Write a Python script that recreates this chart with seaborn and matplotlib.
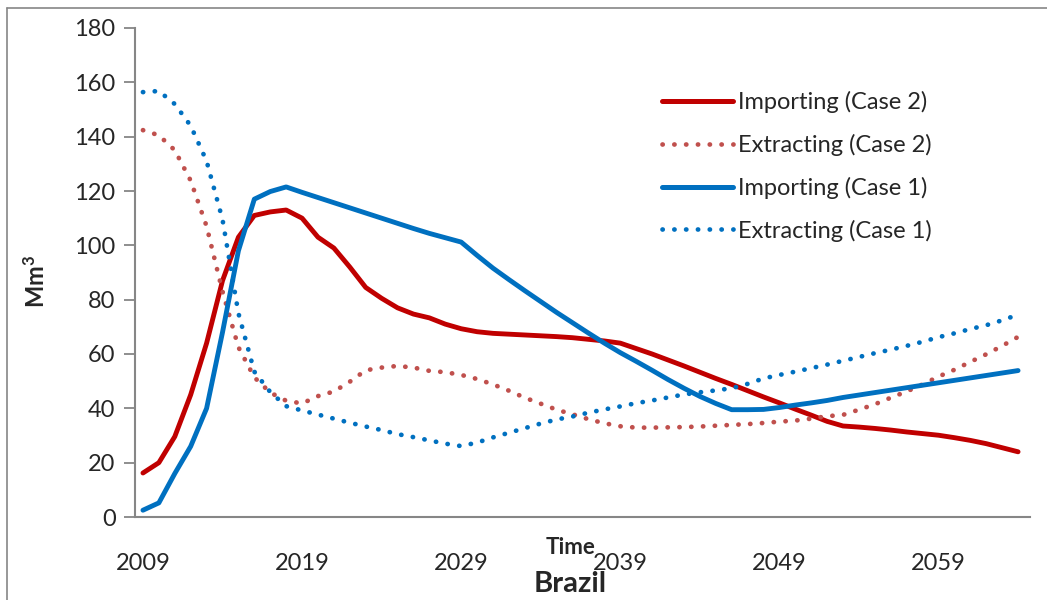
import numpy as np
import pandas as pd
import seaborn as sns
import matplotlib
matplotlib.use('Agg')
from matplotlib import pyplot as plt
from matplotlib.lines import Line2D

# years 2009..2064
years = list(range(2009, 2065))

# Importing (Case 2)
imp_case2 = [16.2, 20, 29.6, 45, 64, 87, 103, 111, 112.3, 113,
             110, 103, 99, 92, 84.5, 80.5, 77, 74.7, 73.3, 71,
             69.3, 68.2, 67.6, 67.3, 67, 66.7, 66.4, 66, 65.4, 64.8,
             64, 62, 60, 57.8, 55.6, 53.3, 51, 48.8, 46.5, 44.2,
             42, 39.7, 37.5, 35.2, 33.5, 33.1, 32.6, 32, 31.3, 30.7,
             30.1, 29.2, 28.2, 27, 25.5, 24]
# Extracting (Case 2)
ext_case2 = [142.4, 140.5, 135, 123.8, 107, 83, 62.5, 51.4, 45.8, 42.8,
             41.8, 44.5, 46.2, 49.8, 54, 55, 55.6, 55, 53.8, 53.3,
             52.3, 50.8, 48.8, 46.5, 43.9, 41.7, 39.5, 37.8, 36, 34.5,
             33.4, 32.9, 32.9, 33, 33.1, 33.3, 33.6, 33.9, 34.2, 34.6,
             35.1, 35.5, 36.2, 37.1, 37.6, 39.5, 41.5, 43.9, 46.2, 48.8,
             51.7, 54.2, 57.1, 59.9, 63, 66.3]
# Importing (Case 1)
imp_case1 = [2.5, 5.2, 16, 26, 40, 68, 98, 117, 119.8, 121.5,
             119.5, 117.6, 115.7, 113.8, 111.9, 110, 108.1, 106.2, 104.4, 102.8,
             101.2, 96.3, 91.6, 87.4, 83.3, 79.3, 75.3, 71.5, 67.7, 64,
             60.5, 57.3, 54, 50.6, 47.4, 44.4, 41.8, 39.5, 39.5, 39.6,
             40.3, 41.2, 42, 42.9, 44, 44.9, 45.8, 46.7, 47.6, 48.5,
             49.4, 50.3, 51.2, 52.1, 53, 53.9]
# Extracting (Case 1)
ext_case1 = [156.4, 156.8, 152, 144, 131, 109.5, 75, 53.5, 46, 40.8,
             39.2, 37.7, 36.2, 34.7, 33.3, 32, 30.5, 29.4, 28.2, 27,
             26.1, 27.4, 29.3, 31, 32.7, 34.4, 35.9, 37, 38.4, 39.6,
             40.7, 41.9, 42.9, 44, 45.1, 45.9, 46.6, 47.4, 49, 51,
             52.3, 53.5, 54.8, 56.1, 57.5, 58.9, 60.3, 61.6, 63, 64.5,
             66.2, 67.6, 69.2, 70.6, 72.4, 74.5]

series_names = ['Importing (Case 2)', 'Extracting (Case 2)',
                'Importing (Case 1)', 'Extracting (Case 1)']
series_values = [imp_case2, ext_case2, imp_case1, ext_case1]
colors = ['#C00000', '#C0504D', '#0070C0', '#0070C0']
dotted = [False, True, False, True]

sns.set_theme(style='white')
plt.rcParams['font.family'] = ['Lato', 'DejaVu Sans']
plt.rcParams['mathtext.fontset'] = 'custom'
plt.rcParams['mathtext.rm'] = 'Lato'
plt.rcParams['mathtext.bf'] = 'Lato:bold'

fig = plt.figure(figsize=(10.47, 6.0), dpi=100)
ax = fig.add_axes([135 / 1047, 1 - 517 / 600, (1030 - 135) / 1047, (517 - 28) / 600])

dot_style = (0, (0.05, 2.45))
handles = []
for name, vals, col, dot in zip(series_names, series_values, colors, dotted):
    df = pd.DataFrame({'year': years, 'value': vals})
    sns.lineplot(data=df, x='year', y='value', ax=ax, color=col, lw=3.5,
                 legend=False)
    line = ax.lines[-1]
    if dot:
        line.set_linestyle(dot_style)
        line.set_dash_capstyle('round')
        line.set_linewidth(3.4)
    else:
        line.set_solid_joinstyle('round')
    handles.append(Line2D([], [], color=col, lw=3.6 if not dot else 3.4,
                          linestyle=dot_style if dot else '-',
                          dash_capstyle='round', solid_capstyle='round'))

ax.set_xlim(2008.5, 2064.75)
ax.set_ylim(0, 180)
ax.set_yticks(np.arange(0, 181, 20))
ax.set_xticks([2009, 2019, 2029, 2039, 2049, 2059])
ax.tick_params(axis='y', direction='out', length=8, width=1.3, color='#868686',
               labelsize=17, pad=6, left=True)
ax.tick_params(axis='x', length=0, labelsize=17, pad=26)
for s in ['top', 'right']:
    ax.spines[s].set_visible(False)
for s in ['left', 'bottom']:
    ax.spines[s].set_color('#868686')
    ax.spines[s].set_linewidth(1.5)

ax.set_xlabel('')
ax.set_ylabel('')
fig.text(36 / 1047, 1 - 281 / 600, r'$\mathbf{Mm^3}$', rotation=90, fontsize=17,
         ha='center', va='center')
fig.text(571 / 1047, 1 - 548 / 600, 'Time', fontsize=16, fontweight='bold',
         ha='center', va='center')
fig.text(570 / 1047, 1 - 584 / 600, 'Brazil', fontsize=21, fontweight='bold',
         ha='center', va='center')

leg = ax.legend(handles, series_names, loc='upper left',
                bbox_to_anchor=(662 / 1047, 1 - 91 / 600),
                bbox_transform=fig.transFigure, frameon=False, fontsize=17,
                handlelength=3.0, handletextpad=0.2, labelspacing=0.88,
                borderpad=0, borderaxespad=0)

# outer chart border (top and left visible)
fig.add_artist(Line2D([7 / 1047, 1.0], [1 - 8 / 600, 1 - 8 / 600],
                      transform=fig.transFigure, color='#868686', lw=1.2))
fig.add_artist(Line2D([7 / 1047, 7 / 1047], [0, 1 - 8 / 600],
                      transform=fig.transFigure, color='#868686', lw=1.2))

fig.savefig('out.png', dpi=100)
